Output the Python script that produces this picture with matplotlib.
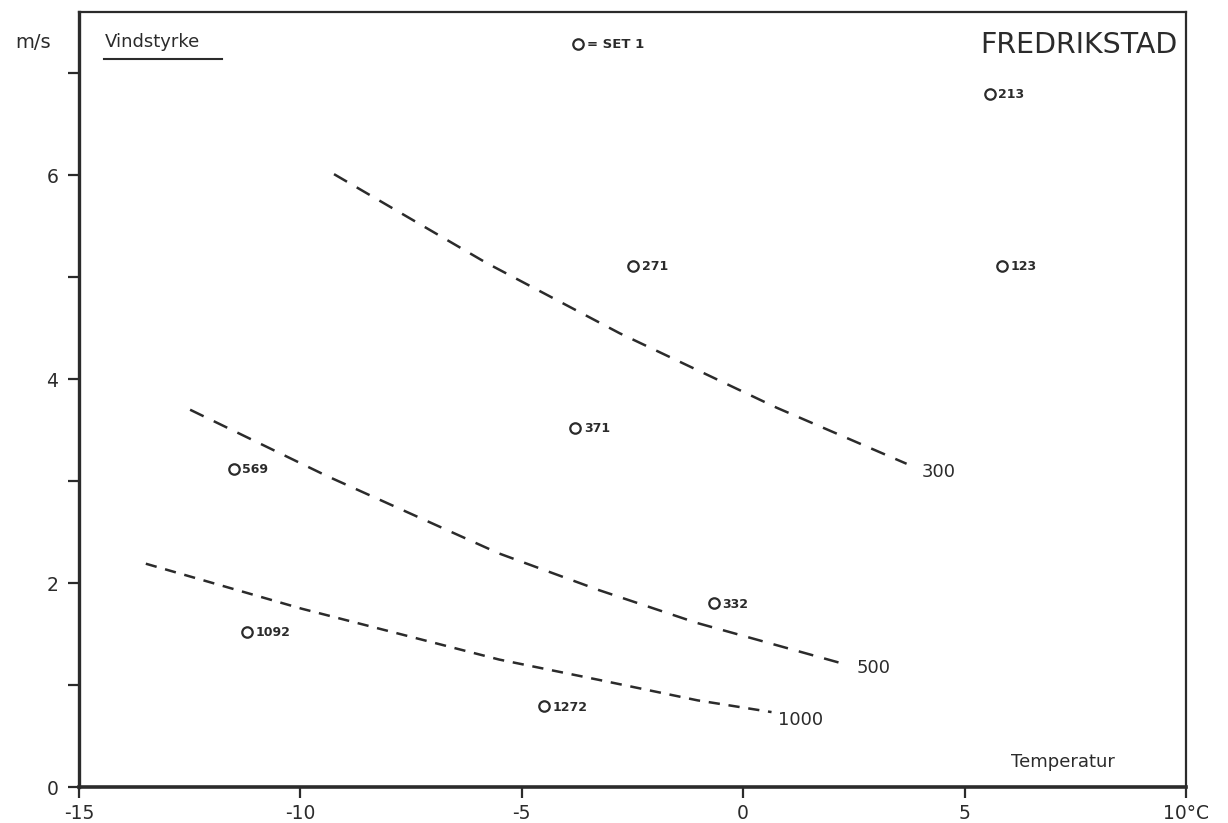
import matplotlib
matplotlib.use("Agg")
import matplotlib.pyplot as plt

# ---- data ----
point_x = [5.57, -2.48, 5.84, -3.79, -11.50, -0.67, -11.20, -4.49]
point_y = [6.80, 5.11, 5.11, 3.52, 3.12, 1.80, 1.52, 0.79]
point_labels = ["213", "271", "123", "371", "569", "332", "1092", "1272"]

curve300_x = [-9.24, -5.80, -2.79, 0.755, 3.69]
curve300_y = [6.01, 5.14, 4.45, 3.72, 3.17]
curve500_x = [-12.49, -9.4, -5.51, -3.25, -1.05, 2.25]
curve500_y = [3.70, 3.05, 2.29, 1.93, 1.61, 1.21]
curve1000_x = [-13.49, -9.98, -5.51, -3.25, -1.03, 0.64]
curve1000_y = [2.19, 1.75, 1.25, 1.05, 0.85, 0.735]
curve_labels = ["300", "500", "1000"]
curve_label_x = [4.03, 2.56, 0.78]
curve_label_y = [3.09, 1.17, 0.66]

xticks = [-15, -10, -5, 0, 5, 10]
xticklabels = ["-15", "-10", "-5", "0", "5", "10°C"]
yticks_major = [0, 2, 4, 6]
yticks_minor = [1, 3, 5, 7]

ink = "#2b2b2b"
plt.rcParams['font.family'] = ['DejaVu Sans']

fig = plt.figure(figsize=(12.28, 8.23), dpi=100)
ax = fig.add_axes([0.0643, 0.0437, 0.9015, 0.9417])
ax.set_xlim(-15, 10)
ax.set_ylim(0, 7.6)

for cx, cy, dash in [(curve300_x, curve300_y, (6, 4.5)),
                     (curve500_x, curve500_y, (6, 4.5)),
                     (curve1000_x, curve1000_y, (4.5, 3.5))]:
    ax.plot(cx, cy, color=ink, lw=1.8, linestyle=(0, dash))

for lx, ly, lab in zip(curve_label_x, curve_label_y, curve_labels):
    ax.text(lx, ly, lab, fontsize=13, color=ink, ha="left", va="center")

ax.plot(point_x, point_y, linestyle="none", marker="o", ms=7.5,
        mfc="white", mec=ink, mew=1.6)
for px, py, lab in zip(point_x, point_y, point_labels):
    ax.annotate(lab, (px, py), xytext=(6, -0.5), textcoords="offset points",
                fontsize=9, fontweight="bold", color=ink, ha="left", va="center")

# legend marker "O = SET 1"
ax.plot([-3.72], [7.29], linestyle="none", marker="o", ms=7.5,
        mfc="white", mec=ink, mew=1.6)
ax.annotate("= SET 1", (-3.72, 7.29), xytext=(6, -0.5), textcoords="offset points",
            fontsize=9.5, fontweight="bold", color=ink, ha="left", va="center")

# texts
ax.text(0.992, 0.958, "FREDRIKSTAD", transform=ax.transAxes, fontsize=20.5,
        color=ink, ha="right", va="center")
ax.text(0.023, 0.961, "Vindstyrke", transform=ax.transAxes, fontsize=13,
        color=ink, ha="left", va="center")
ax.plot([0.023, 0.129], [0.94, 0.94], transform=ax.transAxes, color=ink, lw=1.5)
fig.text(33 / 1228, 1 - 42 / 823, "m/s", fontsize=14, color=ink,
         ha="center", va="center")
ax.text(0.936, 0.032, "Temperatur", transform=ax.transAxes, fontsize=13,
        color=ink, ha="right", va="center")

# axes styling
ax.set_xticks(xticks)
ax.set_xticklabels(xticklabels)
ax.set_yticks(yticks_major)
ax.set_yticks(yticks_minor, minor=True)
ax.tick_params(axis="both", which="both", direction="out", length=8, width=1.6,
               colors=ink, labelsize=13.5)
ax.tick_params(axis="x", pad=4)
ax.tick_params(axis="y", pad=7)
for side, lw in [("left", 2.4), ("bottom", 2.6), ("top", 1.6), ("right", 1.6)]:
    ax.spines[side].set_linewidth(lw)
    ax.spines[side].set_color(ink)

fig.savefig("out.png", dpi=100, facecolor="white")
